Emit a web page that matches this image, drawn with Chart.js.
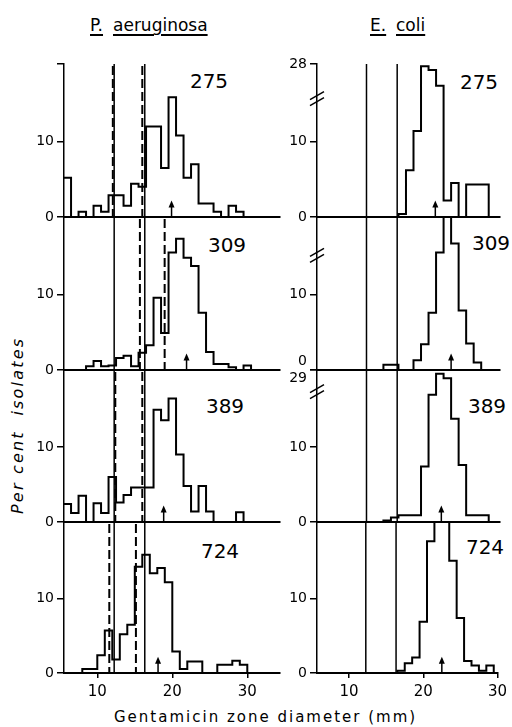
<!DOCTYPE html>
<html>
<head>
<meta charset="utf-8">
<script src="https://cdn.jsdelivr.net/npm/chart.js@4.4.1/dist/chart.umd.min.js"></script>
<style>
  body { margin: 0; background: #fff; width: 512px; height: 727px; position: relative; overflow: hidden;
         font-family: "DejaVu Sans", sans-serif; color: #000; }
  .lbl { position: absolute; white-space: nowrap; line-height: 1; }
  .hd u { text-decoration-thickness: 1.5px; text-underline-offset: 3px; }
  .num { position: absolute; font-size: 20px; line-height: 1; transform: translate(-50%, -50%); }
</style>
</head>
<body>

<div class="lbl hd" style="left:90px;top:17px;font-size:17px"><u>P.</u></div>
<div class="lbl hd" style="left:113px;top:17px;font-size:17px"><u>aeruginosa</u></div>
<div class="lbl hd" style="left:370px;top:17px;font-size:17px"><u>E.</u></div>
<div class="lbl hd" style="left:396px;top:17px;font-size:17px"><u>coli</u></div>

<div class="lbl" style="left:10px;top:514px;font-size:16px;font-style:italic;letter-spacing:2.2px;transform-origin:0 0;transform:rotate(-90deg)">Per cent&nbsp; isolates</div>
<div class="lbl" style="left:114px;top:710px;font-size:15px;letter-spacing:2px">Gentamicin zone diameter (mm)</div>

<div class="num" style="left:209px;top:81px">275</div>
<div class="num" style="left:227px;top:245px">309</div>
<div class="num" style="left:225px;top:406px">389</div>
<div class="num" style="left:220px;top:551px">724</div>
<div class="num" style="left:479px;top:82px">275</div>
<div class="num" style="left:491px;top:243px">309</div>
<div class="num" style="left:487px;top:406px">389</div>
<div class="num" style="left:485px;top:547px">724</div>

<script>
// bin left edges (mm); bins centred on whole mm, except P. aeruginosa 724 which is drawn on whole-mm edges
const binsHalf = [5.5, 6.5, 7.5, 8.5, 9.5, 10.5, 11.5, 12.5, 13.5, 14.5, 15.5, 16.5, 17.5,
                  18.5, 19.5, 20.5, 21.5, 22.5, 23.5, 24.5, 25.5, 26.5, 27.5, 28.5, 29.5, 30.5];
const binsWhole = [6, 7, 8, 9, 10, 11, 12, 13, 14, 15, 16, 17, 18,
                   19, 20, 21, 22, 23, 24, 25, 26, 27, 28, 29, 30, 31];

// per cent of isolates per bin (P. aeruginosa)
const pa275 = [5.2, 0, 0.7, 0, 1.5, 0.7, 2.9, 2.9, 1.5, 4.4, 4.0, 12.0, 12.0, 6.5, 15.9, 10.8, 5.2, 7.0, 1.8, 1.8, 0.7, 0, 1.5, 0.7, 0, 0];
const pa309 = [0, 0, 0, 0.5, 1.2, 0.5, 0.6, 1.6, 1.9, 0.5, 2.3, 3.3, 9.6, 4.9, 15.6, 17.4, 14.9, 13.8, 7.6, 2.4, 0.8, 0.8, 0.35, 0, 0.6, 0];
const pa389 = [2.4, 1.2, 3.5, 0, 2.5, 1.2, 6.0, 2.6, 3.6, 4.6, 4.6, 4.6, 15.0, 13.6, 16.5, 9.0, 4.8, 1.4, 4.8, 1.4, 0, 0, 0, 1.3, 0, 0];
const pa724 = [0, 0, 0.55, 0.55, 2.4, 5.7, 1.8, 5.2, 6.5, 14.3, 15.9, 13.4, 14.1, 12.2, 2.9, 0.55, 1.55, 1.55, 0, 0, 1.1, 1.1, 1.65, 1.1, 0, 0];

// E. coli (heights as drawn below the axis break)
const ec275 = [0, 0, 0, 0, 0, 0, 0, 0, 0, 0, 0, 0.4, 6.2, 11.4, 20.0, 19.5, 17.4, 2.2, 4.5, 0, 4.3, 4.3, 4.3, 0, 0, 0];
const ec309 = [0, 0, 0, 0, 0, 0, 0, 0, 0, 0.7, 0.7, 0, 0, 1.3, 3.4, 7.6, 15.6, 21, 16.8, 7.9, 3.5, 1.0, 0, 0, 0, 0];
const ec389 = [0, 0, 0, 0, 0, 0, 0, 0, 0, 0.2, 0.6, 0.9, 0.9, 0.9, 7.4, 17.0, 19.8, 19.2, 13.8, 7.6, 0.9, 0.9, 0.9, 0, 0, 0];
const ec724 = [0, 0, 0, 0, 0, 0, 0, 0, 0, 0, 0, 0.3, 1.3, 2.1, 6.9, 17.7, 21, 21, 15.1, 7.4, 1.6, 1.0, 0.3, 1.0, 0, 0];

// breakpoints (solid), per-strain dashed lines, mean arrows, axis breaks
const solidLines = [12.25, 16.33];
const paDashed = [[12.07, 16.0], [15.68, 18.98], [12.4, 16.0], [11.6, 15.15]];
const paArrows = [19.9, 21.9, 18.85, 18.1];
const ecArrows = [21.4, 23.5, 22.2, 22.5];
const ecBreaks = [15.7, 15.2, 17.4, null];

const xTicks = [10, 20, 30];
const yTicks = [0, 10];
const yMax = 20.3;
const arrowHeight = 2.2;

Chart.defaults.font.family = '"DejaVu Sans", sans-serif';
Chart.defaults.color = '#000';

const panelY = [64, 217, 370, 522, 673];
const PAD = 20;
const columns = {
  pa: { left: 0, width: 290, padL: 20, padR: 10, xMin: 5.56, xMax: 34.36 },
  ec: { left: 262, width: 250, padL: 11, padR: 12, xMin: 5.67, xMax: 30 }
};

function marksPlugin(spec) {
  return {
    id: 'marks',
    afterDatasetsDraw(chart) {
      const { ctx, chartArea: a, scales: { x, y } } = chart;
      const line = (x1, y1, x2, y2) => { ctx.beginPath(); ctx.moveTo(x1, y1); ctx.lineTo(x2, y2); ctx.stroke(); };
      ctx.save();
      ctx.strokeStyle = '#000';
      ctx.fillStyle = '#000';
      ctx.lineWidth = 1.5;
      solidLines.forEach(v => { const px = x.getPixelForValue(v); line(px, a.top, px, a.bottom); });
      ctx.lineWidth = 2;
      ctx.setLineDash([9, 4]);
      (spec.dashed || []).forEach(v => { const px = x.getPixelForValue(v); line(px, a.top + 2, px, a.bottom); });
      ctx.setLineDash([]);

      // arrow
      const ax = x.getPixelForValue(spec.arrow);
      const y0 = y.getPixelForValue(0), y1 = y.getPixelForValue(arrowHeight);
      ctx.lineWidth = 1.5;
      line(ax, y0, ax, y1 + 4);
      ctx.beginPath();
      ctx.moveTo(ax, y1); ctx.lineTo(ax - 3, y1 + 7); ctx.lineTo(ax + 3, y1 + 7); ctx.closePath();
      ctx.fill();

      // axis break
      if (spec.brk != null) {
        const by = y.getPixelForValue(spec.brk), bx = a.left;
        ctx.lineWidth = 1.5;
        [-3, 3].forEach(d => line(bx - 7, by + d + 4, bx + 7, by + d - 4));
      }
      ctx.restore();
    }
  };
}

function panel(colKey, i, bins, values, spec) {
  const c = columns[colKey];
  const last = i === 3;
  const top = panelY[i] - PAD;
  const h = panelY[i + 1] - panelY[i] + PAD + (last ? 48 : PAD);
  const cv = document.createElement('canvas');
  cv.width = c.width;
  cv.height = h;
  cv.style.cssText = `position:absolute;left:${c.left}px;top:${top}px`;
  document.body.appendChild(cv);

  const tickVals = spec.topLabel != null ? yTicks.concat([yMax]) : yTicks;
  const labels = tickVals.map(v => {
    if (v === 0) return spec.zeroUp ? ['0', ''] : '0';
    if (v === yMax) return spec.topDown ? ['', spec.topLabel] : spec.topLabel;
    return String(v);
  });

  new Chart(cv, {
    type: 'line',
    data: {
      datasets: [{
        data: bins.map((x, k) => ({ x: x, y: values[k] })),
        stepped: 'before',
        borderColor: '#000',
        borderWidth: 2,
        pointRadius: 0,
        fill: false,
        clip: { left: 0, right: 0, top: 1, bottom: 2 }
      }]
    },
    options: {
      responsive: false,
      animation: false,
      events: [],
      layout: { padding: { left: c.padL, right: c.padR, top: PAD, bottom: last ? 18 : PAD } },
      plugins: { legend: { display: false }, tooltip: { enabled: false } },
      scales: {
        x: {
          type: 'linear',
          min: c.xMin,
          max: c.xMax,
          afterBuildTicks: s => { s.ticks = xTicks.map(v => ({ value: v })); },
          afterFit: s => { s.height = last ? 30 : 0; },
          ticks: { display: last, font: { size: 15 }, color: '#000', padding: 5 },
          grid: { display: last, drawOnChartArea: false, tickLength: 5, color: '#000', lineWidth: 1.5 },
          border: { display: true, color: '#000', width: 2 }
        },
        y: {
          min: 0,
          max: yMax,
          afterBuildTicks: s => { s.ticks = tickVals.map(v => ({ value: v })); },
          afterFit: s => { s.width = 44; },
          ticks: { callback: (v, idx) => labels[idx], font: { size: 14 }, color: '#000', padding: 3 },
          grid: { drawOnChartArea: false, tickLength: 7, color: '#000', lineWidth: 1.5 },
          border: { display: true, color: '#000', width: 1.5 }
        }
      }
    },
    plugins: [marksPlugin(spec)]
  });
}

panel('pa', 0, binsHalf, pa275, { dashed: paDashed[0], arrow: paArrows[0], topLabel: '' });
panel('pa', 1, binsHalf, pa309, { dashed: paDashed[1], arrow: paArrows[1] });
panel('pa', 2, binsHalf, pa389, { dashed: paDashed[2], arrow: paArrows[2] });
panel('pa', 3, binsWhole, pa724, { dashed: paDashed[3], arrow: paArrows[3] });

panel('ec', 0, binsHalf, ec275, { arrow: ecArrows[0], brk: ecBreaks[0], topLabel: '28' });
panel('ec', 1, binsHalf, ec309, { arrow: ecArrows[1], brk: ecBreaks[1], zeroUp: true });
panel('ec', 2, binsHalf, ec389, { arrow: ecArrows[2], brk: ecBreaks[2], topLabel: '29', topDown: true });
panel('ec', 3, binsHalf, ec724, { arrow: ecArrows[3], brk: ecBreaks[3] });
</script>
</body>
</html>
